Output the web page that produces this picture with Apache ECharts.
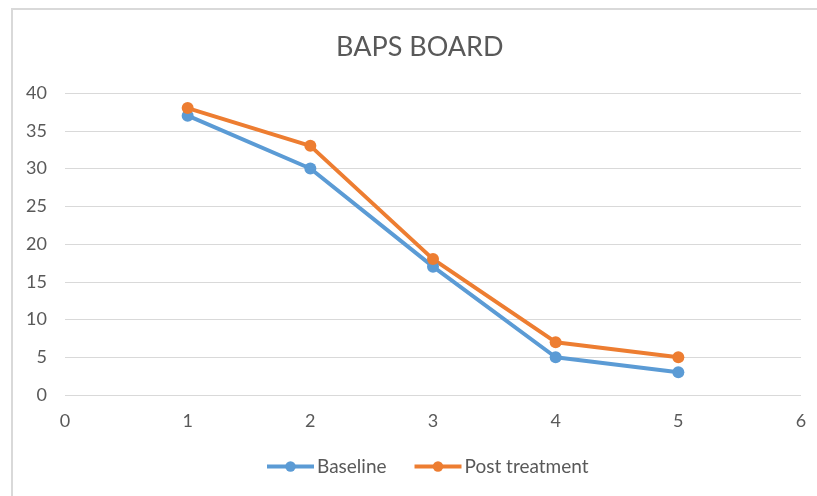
<!DOCTYPE html>
<html><head><meta charset="utf-8">
<script src="https://cdn.jsdelivr.net/npm/echarts@6/dist/echarts.min.js"></script>
<style>
html,body{margin:0;padding:0;background:#fff;overflow:hidden}
#frame{position:absolute;left:11px;top:8px;width:900px;height:600px;border-left:2px solid #d9d9d9;border-top:2px solid #d9d9d9;box-sizing:border-box}
#c{position:absolute;left:0;top:0;width:817px;height:496px}
</style></head>
<body>
<div id="frame"></div>
<div id="c"></div>
<script>
const title = "BAPS BOARD";
const xValues = [1, 2, 3, 4, 5];
const baseline = [37, 30, 17, 5, 3];
const postTreatment = [38, 33, 18, 7, 5];
const seriesNames = ["Baseline", "Post treatment"];

const FONT = "Lato, 'Open Sans', sans-serif";
const txt = "#595959";
const chart = echarts.init(document.getElementById('c'), null, {renderer:'canvas'});
const pairs = a => xValues.map((x,i)=>[x,a[i]]);
chart.setOption({
  backgroundColor: 'transparent',
  animation: false,
  title: {text: title, left: 331, top: 29, textStyle:{fontFamily:FONT, fontSize:27, fontWeight:'normal', color:txt}},
  legend: {bottom: 15, left: 260, itemWidth: 47, itemHeight: 13, itemGap: 26,
    lineStyle:{width:4},
    textStyle:{fontFamily:FONT, fontSize:19, color:txt, padding:[0,0,0,-2]},
    data: seriesNames},
  grid: {left: 65, right: 16, top: 93, bottom: 101},
  xAxis: {type:'value', min:0, max:6, interval:1,
    axisLine:{show:false}, axisTick:{show:false}, splitLine:{show:false},
    axisLabel:{fontFamily:FONT, fontSize:18, color:txt, margin:17}},
  yAxis: {type:'value', min:0, max:40, interval:5,
    axisLine:{show:false}, axisTick:{show:false},
    splitLine:{lineStyle:{color:'#d9d9d9', width:1}},
    axisLabel:{fontFamily:FONT, fontSize:18, color:txt, margin:18}},
  series: [
    {name: seriesNames[0], type:'line', data: pairs(baseline), color:'#5B9BD5',
     symbol:'circle', symbolSize:12, lineStyle:{width:4}},
    {name: seriesNames[1], type:'line', data: pairs(postTreatment), color:'#ED7D31',
     symbol:'circle', symbolSize:12, lineStyle:{width:4}}
  ]
});
</script>
</body></html>
